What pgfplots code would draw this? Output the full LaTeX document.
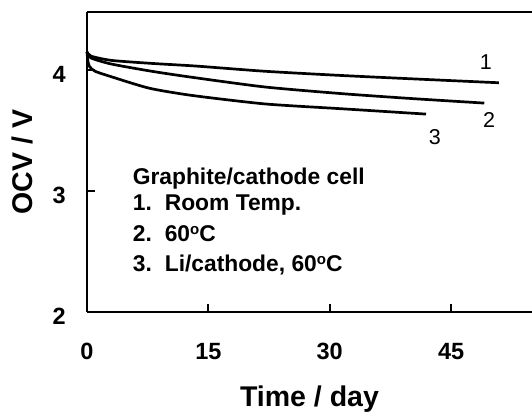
\documentclass[border=0pt]{standalone}
\usepackage{pgfplots}
\pgfplotsset{compat=1.18}
\usepackage{fontspec}
\setmainfont{Liberation Sans}
\newcommand{\dego}{\raisebox{0.62ex}{\fontsize{15}{15}\selectfont o}}
\begin{document}
\begin{tikzpicture}
\begin{axis}[name=ax, scale only axis, width=445pt, height=300pt,
  xmin=0, xmax=55, ymin=2, ymax=4.48,
  separate axis lines, axis x line*=box, axis y line*=left,
  axis line style={line width=2pt},
  xtick={0,15,30,45}, ytick={2,3,4}, tick align=inside,
  xtick pos=bottom, ytick pos=left,
  major tick length=8pt, tick style={line width=2pt, black},
  /pgf/number format/assume math mode=true,
  ticklabel style={font=\fontsize{23.5}{27}\selectfont\bfseries, inner sep=0pt},
  xticklabel style={anchor=base, yshift=-48pt},
  yticklabel style={anchor=east, xshift=-21pt, yshift=-4pt},
  xlabel={Time / day}, ylabel={OCV / V},
  label style={font=\fontsize{28.5}{32}\selectfont\bfseries, inner sep=0pt},
  xlabel style={at={(axis description cs:0.5,-0.314)}, anchor=base},
  ylabel style={at={(axis description cs:-0.1215,0.5)}, anchor=base, rotate=0},
  clip=false,
]
\addplot[black, line width=2.7pt, smooth, tension=0.4] coordinates {
(0,4.15) (0.5,4.115) (3,4.08) (8,4.055) (13.5,4.033) (22,3.99) (31.5,3.955) (41,3.925) (50.9,3.895)};
\addplot[black, line width=2.7pt, smooth, tension=0.4] coordinates {
(0,4.15) (0.5,4.10) (3,4.05) (8,3.99) (13,3.94) (22,3.86) (31.5,3.805) (40,3.765) (49.1,3.727)};
\addplot[black, line width=2.7pt, smooth, tension=0.4] coordinates {
(0,4.15) (0.1,4.08) (0.3,4.03) (1,3.99) (3,3.945) (7.7,3.85) (13,3.79) (22,3.72) (31.5,3.68) (41.9,3.636)};
\begin{scope}[every node/.style={font=\fontsize{22.8}{26}\selectfont\bfseries, inner sep=0pt, anchor=base west}]
\node at (axis cs:5.64,3.058) {Graphite/cathode cell};
\node at (axis cs:5.64,2.835) {\makebox[32pt][l]{1.}Room Temp.};
\node at (axis cs:5.64,2.579) {\makebox[32pt][l]{2.}60\dego C};
\node at (axis cs:5.64,2.331) {\makebox[32pt][l]{3.}Li/cathode, 60\dego C};
\end{scope}
\begin{scope}[every node/.style={font=\fontsize{21.5}{24}\selectfont, inner sep=0pt}]
\node at (axis cs:49.3,4.066) {1};
\node at (axis cs:49.7,3.587) {2};
\node at (axis cs:43.0,3.446) {3};
\end{scope}
\end{axis}
\pgfresetboundingbox
\useasboundingbox ([xshift=-87pt,yshift=-102pt]ax.south west) rectangle ([yshift=12pt]ax.north east);
\end{tikzpicture}
\end{document}
